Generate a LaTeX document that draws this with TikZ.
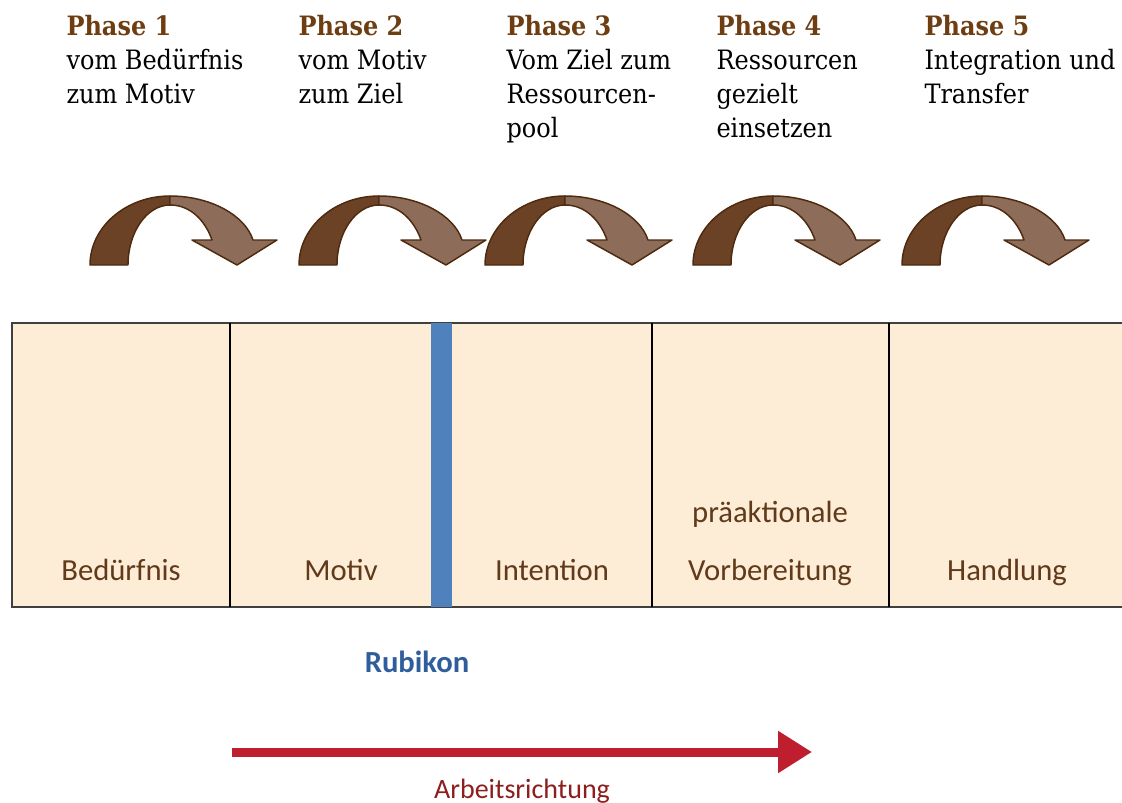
\documentclass[tikz,border=0pt]{standalone}
\usepackage{fontspec}
\setmainfont{Liberation Serif}
\newfontfamily\phasefont[FakeStretch=0.9]{DejaVu Serif}
\newfontfamily\cellfont{Carlito}
\usepackage{tikz}
\usetikzlibrary{arrows.meta}
\tikzset{every picture/.style={line width=0.75pt}}

\definecolor{cellfill}{RGB}{253,236,214}
\definecolor{cellbrown}{RGB}{96,58,26}
\definecolor{phasebrown}{RGB}{110,62,18}
\definecolor{bowdark}{RGB}{107,66,38}
\definecolor{bowlight}{RGB}{141,108,89}
\definecolor{bowedge}{RGB}{78,42,14}
\definecolor{rubiconblue}{RGB}{79,129,189}
\definecolor{rubicontext}{RGB}{48,94,156}
\definecolor{workred}{RGB}{190,30,45}
\definecolor{worktext}{RGB}{140,30,28}

\tikzset{
  phasetext/.style={anchor=north west, inner sep=0.75pt, align=left, font=\fontsize{20}{25.5}\selectfont\phasefont},
  celltext/.style={anchor=base, inner sep=0.75pt, color=cellbrown, font=\fontsize{23}{28}\selectfont\cellfont},
  bowback/.style={draw=bowedge, fill=bowdark, line width=1.1pt, line join=round},
  bowfront/.style={draw=bowedge, fill=bowlight, line width=1.1pt, line join=round},
}

\begin{document}
\begin{tikzpicture}[x=0.75pt,y=0.75pt,yscale=-1,xscale=1]
\useasboundingbox (0,0) rectangle (1122,803);

%Shape: Rectangle (phase row)
\fill [cellfill] (12,323) rectangle (1122,607) ;
\draw [line width=1.5pt, color={rgb, 255:red, 64; green, 64; blue, 64 }] (1122,323) -- (12,323) -- (12,607) -- (1122,607) ;
%Straight Lines (cell borders)
\draw [line width=1.1pt] (230,323) -- (230,607) ;
\draw [line width=1.1pt] (652,323) -- (652,607) ;
\draw [line width=1.1pt] (889,323) -- (889,607) ;
%Shape: Rectangle (Rubikon bar)
\fill [rubiconblue] (431,323) rectangle (452,607) ;

%Curved Arrow 1
\draw [bowback, shift={(90,0)}] (0,265) .. controls (0,227) and (36,196) .. (80,196) -- (80,205) .. controls (57,205) and (38,232) .. (38,265) -- cycle ;
\draw [bowfront, shift={(90,0)}] (80,196) .. controls (120,196) and (155,215) .. (163,240) -- (187,240) -- (147,265) -- (102,240) -- (122,240) .. controls (115,220) and (100,205) .. (80,205) -- cycle ;
%Curved Arrow 2
\draw [bowback, shift={(299,0)}] (0,265) .. controls (0,227) and (36,196) .. (80,196) -- (80,205) .. controls (57,205) and (38,232) .. (38,265) -- cycle ;
\draw [bowfront, shift={(299,0)}] (80,196) .. controls (120,196) and (155,215) .. (163,240) -- (187,240) -- (147,265) -- (102,240) -- (122,240) .. controls (115,220) and (100,205) .. (80,205) -- cycle ;
%Curved Arrow 3
\draw [bowback, shift={(485,0)}] (0,265) .. controls (0,227) and (36,196) .. (80,196) -- (80,205) .. controls (57,205) and (38,232) .. (38,265) -- cycle ;
\draw [bowfront, shift={(485,0)}] (80,196) .. controls (120,196) and (155,215) .. (163,240) -- (187,240) -- (147,265) -- (102,240) -- (122,240) .. controls (115,220) and (100,205) .. (80,205) -- cycle ;
%Curved Arrow 4
\draw [bowback, shift={(693,0)}] (0,265) .. controls (0,227) and (36,196) .. (80,196) -- (80,205) .. controls (57,205) and (38,232) .. (38,265) -- cycle ;
\draw [bowfront, shift={(693,0)}] (80,196) .. controls (120,196) and (155,215) .. (163,240) -- (187,240) -- (147,265) -- (102,240) -- (122,240) .. controls (115,220) and (100,205) .. (80,205) -- cycle ;
%Curved Arrow 5
\draw [bowback, shift={(902,0)}] (0,265) .. controls (0,227) and (36,196) .. (80,196) -- (80,205) .. controls (57,205) and (38,232) .. (38,265) -- cycle ;
\draw [bowfront, shift={(902,0)}] (80,196) .. controls (120,196) and (155,215) .. (163,240) -- (187,240) -- (147,265) -- (102,240) -- (122,240) .. controls (115,220) and (100,205) .. (80,205) -- cycle ;

%Straight Lines (Arbeitsrichtung)
\coordinate (workStart) at (232,752) ;
\coordinate (workEnd) at (812,752) ;
\draw [workred, line width=6.75pt, -{Triangle[length=25.5pt,width=30pt]}] (workStart) -- (workEnd) ;

% Text Node
\draw (65,14) node (phaseA) [phasetext] {{\bfseries\color{phasebrown}Phase 1}\\vom Bedürfnis\\zum Motiv};
% Text Node
\draw (297,14) node (phaseB) [phasetext] {{\bfseries\color{phasebrown}Phase 2}\\vom Motiv\\zum Ziel};
% Text Node
\draw (505,14) node (phaseC) [phasetext] {{\bfseries\color{phasebrown}Phase 3}\\Vom Ziel zum\\Ressourcen-\\pool};
% Text Node
\draw (715,14) node (phaseD) [phasetext] {{\bfseries\color{phasebrown}Phase 4}\\Ressourcen\\gezielt\\einsetzen};
% Text Node
\draw (923,14) node (phaseE) [phasetext] {{\bfseries\color{phasebrown}Phase 5}\\Integration und\\Transfer};
% Text Node
\draw (121,580) node (beduerfnis) [celltext] {Bedürfnis};
% Text Node
\draw (341,580) node (motiv) [celltext] {Motiv};
% Text Node
\draw (552,580) node (intention) [celltext] {Intention};
% Text Node
\draw (770,522) node (praeaktional) [celltext] {präaktionale};
% Text Node
\draw (770,580) node (vorbereitung) [celltext] {Vorbereitung};
% Text Node
\draw (1007,580) node (handlung) [celltext] {Handlung};
% Text Node
\draw (417,672) node (rubikon) [anchor=base, inner sep=0.75pt, color=rubicontext, font=\fontsize{23}{28}\selectfont\cellfont\bfseries] {Rubikon};
% Text Node
\draw (522,798) node (arbeit) [anchor=base, inner sep=0.75pt, color=worktext, font=\fontsize{21}{26}\selectfont\cellfont] {Arbeitsrichtung};

\end{tikzpicture}
\end{document}
